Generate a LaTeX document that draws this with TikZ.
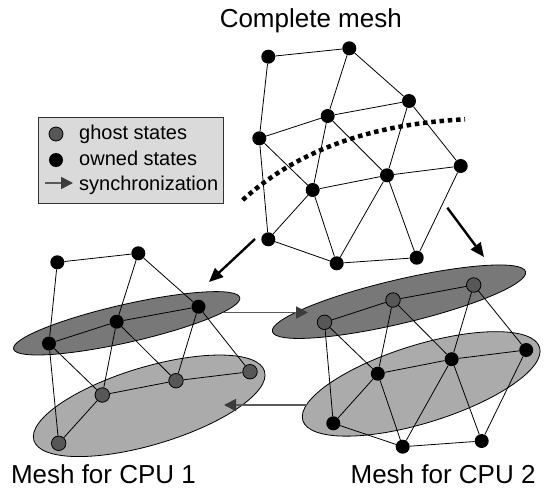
\documentclass[tikz,border=0pt]{standalone}
\usepackage{fontspec}
\setmainfont{Liberation Sans}
\usetikzlibrary{arrows.meta}

\definecolor{ellDark}{HTML}{787878}
\definecolor{ellLight}{HTML}{ABABAB}
\definecolor{ghostFill}{HTML}{575757}
\definecolor{legendFill}{HTML}{DADADA}
\definecolor{legendBorder}{HTML}{333333}
\definecolor{syncLine}{HTML}{5A5A5A}
\definecolor{syncTip}{HTML}{3C3C3C}

\begin{document}
\begin{tikzpicture}[x=1pt,y=-1pt,
  owned/.style={circle, fill=black, minimum size=14pt, inner sep=0pt},
  ghost/.style={circle, draw=black, line width=0.8pt, fill=ghostFill, minimum size=14.5pt, inner sep=0pt},
  meshline/.style={line width=0.8pt},
  partDark/.style={draw=black, line width=0.8pt, fill=ellDark},
  partLight/.style={draw=black, line width=0.8pt, fill=ellLight},
  splitarrow/.style={line width=2.4pt, -{Triangle[length=14pt,width=12pt]}},
  syncarrow/.style={draw=syncLine, line width=1.8pt, -{Triangle[length=12pt,width=12pt,color=syncTip]}},
  cutline/.style={line width=4.5pt, dash pattern=on 4.5pt off 3.8pt},
  titletext/.style={font=\fontsize{26}{30}\selectfont, inner sep=0pt},
  legtext/.style={font=\fontsize{20}{24}\selectfont, inner sep=0pt, anchor=base west}
]
\useasboundingbox (0,0) rectangle (544,491);

% partition ellipses
\path[partDark, rotate around={12.8:(126.7,323.3)}] (126.7,323.3) ellipse [x radius=116pt, y radius=19pt];
\path[partLight, rotate around={16.7:(149.2,405.8)}] (149.2,405.8) ellipse [x radius=120.4pt, y radius=38.8pt];
\path[partDark, rotate around={13.3:(399,301.7)}] (399,301.7) ellipse [x radius=130.1pt, y radius=21.9pt];
\path[partLight, rotate around={17.2:(421.2,383.9)}] (421.2,383.9) ellipse [x radius=123.9pt, y radius=39pt];

% complete mesh
\node[owned] (tA) at (268.3,56.7) {};
\node[owned] (tB) at (349.3,48.3) {};
\node[owned] (tC) at (409,101) {};
\node[owned] (tD) at (327.7,116) {};
\node[owned] (tE) at (259.3,138.3) {};
\node[owned] (tF) at (460.7,166) {};
\node[owned] (tG) at (387,175.3) {};
\node[owned] (tH) at (312.7,190) {};
\node[owned] (tI) at (268.3,239.3) {};
\node[owned] (tJ) at (336.7,263.3) {};
\node[owned] (tK) at (416.7,257.7) {};
\foreach \a/\b in {tA/tB, tA/tE, tB/tD, tB/tC, tD/tC, tE/tD, tE/tH, tE/tI, tD/tH, tD/tG,
                   tC/tG, tC/tF, tH/tG, tG/tF, tH/tI, tH/tJ, tG/tJ, tG/tK, tF/tK, tI/tJ, tJ/tK}
  \draw[meshline] (\a) -- (\b);

% cut through the mesh
\draw[cutline] (242.7,200) .. controls (300,148) and (375,124) .. (465,119.3);

% mesh for CPU 1
\node[owned] (la) at (57.3,262.3) {};
\node[owned] (lb) at (138.3,253.3) {};
\node[owned] (lc) at (198.5,306.7) {};
\node[owned] (ld) at (116.7,321.7) {};
\node[owned] (le) at (49,343.5) {};
\node[ghost] (lf) at (250,371.7) {};
\node[ghost] (lg) at (176,380.7) {};
\node[ghost] (lh) at (102.3,395) {};
\node[ghost] (li) at (58.7,443.3) {};
\foreach \a/\b in {la/lb, la/le, lb/ld, lb/lc, ld/lc, le/ld, le/lh, le/li, ld/lh, ld/lg,
                   lc/lg, lc/lf, lh/lg, lg/lf, lh/li}
  \draw[meshline] (\a) -- (\b);

% mesh for CPU 2
\node[ghost] (rp) at (324.5,322.3) {};
\node[ghost] (rq) at (393,300) {};
\node[ghost] (rr) at (473.7,285) {};
\node[owned] (rs) at (526.2,350) {};
\node[owned] (rt) at (451.7,359.2) {};
\node[owned] (ru) at (377.8,373.7) {};
\node[owned] (rv) at (333.3,423.3) {};
\node[owned] (rw) at (402.7,446.7) {};
\node[owned] (rx) at (481.7,441) {};
\foreach \a/\b in {rp/rq, rq/rr, rp/ru, rp/rv, rq/ru, rq/rt, rr/rt, rr/rs, ru/rt, rt/rs,
                   ru/rv, ru/rw, rt/rw, rt/rx, rs/rx, rv/rw, rw/rx}
  \draw[meshline] (\a) -- (\b);

% splitting arrows
\coordinate (splitL0) at (255,239);
\coordinate (splitL1) at (209,282);
\coordinate (splitR0) at (447.3,207.7);
\coordinate (splitR1) at (484,257);
\draw[splitarrow] (splitL0) -- (splitL1);
\draw[splitarrow] (splitR0) -- (splitR1);

% synchronization arrows
\coordinate (syncA0) at (223,312.5);
\coordinate (syncA1) at (308,312.5);
\coordinate (syncB0) at (307,405);
\coordinate (syncB1) at (224,405);
\draw[syncarrow] (syncA0) -- (syncA1);
\draw[syncarrow] (syncB0) -- (syncB1);

% legend
\node[draw=legendBorder, fill=legendFill, line width=0.8pt, minimum width=185pt,
      minimum height=85.4pt, inner sep=0pt, anchor=north west] (legend) at (38.3,117.3) {};
\node[ghost, minimum size=14pt] (legG) at (56,134) {};
\node[owned] (legO) at (56,160) {};
\coordinate (legA0) at (45,183);
\coordinate (legA1) at (73,183);
\draw[syncarrow] (legA0) -- (legA1);
\node[legtext] (legGt) at (79,139.5) {ghost states};
\node[legtext] (legOt) at (79,165) {owned states};
\node[legtext] (legAt) at (79,190) {synchronization};

% captions
\node[titletext, anchor=base] (title) at (310.8,27) {Complete mesh};
\node[titletext, anchor=base west] (cpu1) at (10.8,483.3) {Mesh for CPU 1};
\node[titletext, anchor=base west] (cpu2) at (350.4,483.3) {Mesh for CPU 2};
\end{tikzpicture}
\end{document}
